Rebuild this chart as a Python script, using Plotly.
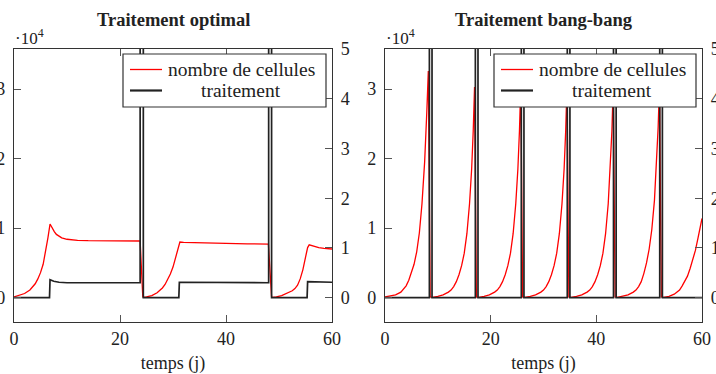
import plotly.graph_objects as go

# ---------------- data (cells in units of 1e4, treatment on right axis) ----------------
t_opt_cells = [0, 1, 2, 3, 4, 4.5, 5, 5.5, 6, 6.4, 6.8, 7.2, 7.6, 8, 8.5, 9, 10, 11, 12, 14, 17, 20, 23.8, 24.3,
               24.4, 25, 26, 27, 28, 28.5, 29, 29.5, 30, 30.5, 31, 31.3, 32, 34, 37, 40, 44, 48.0, 48.6,
               48.8, 49.5, 50.5, 51.5, 52, 52.5, 53, 53.5, 54, 54.5, 55, 55.4, 55.7, 56.5, 57.5, 58.5, 60]
cells_opt = [0.01, 0.03, 0.06, 0.11, 0.20, 0.27, 0.36, 0.48, 0.67, 0.86, 1.06, 1.0, 0.95, 0.91, 0.88, 0.86, 0.84, 0.83, 0.825, 0.82, 0.82, 0.815, 0.815, 0.01,
             0.005, 0.01, 0.03, 0.07, 0.14, 0.19, 0.26, 0.34, 0.44, 0.57, 0.73, 0.80, 0.795, 0.79, 0.785, 0.78, 0.775, 0.77, 0.01,
             0.005, 0.01, 0.03, 0.06, 0.08, 0.10, 0.13, 0.18, 0.27, 0.40, 0.58, 0.72, 0.76, 0.74, 0.72, 0.71, 0.70]

t_opt_treat = [0, 6.7, 6.8, 7.5, 8.5, 10, 23.8, 23.8, 24.4, 24.4, 31.1, 31.2, 48.05, 48.05, 48.6, 48.6, 55.3, 55.4, 60]
treat_opt = [0, 0, 0.36, 0.33, 0.31, 0.30, 0.30, 10, 10, 0, 0, 0.31, 0.30, 10, 10, 0, 0, 0.32, 0.31]

t_bb_cells = [0, 1, 2, 3, 3.5, 4, 4.5, 5, 5.5, 6, 6.5, 7, 7.5, 7.9, 8.2, 8.55,
              9.0, 10, 11, 12, 12.5, 13, 13.5, 14, 14.5, 15, 15.5, 16, 16.4, 16.7, 16.95, 17.3,
              17.75, 18.75, 19.75, 20.75, 21.25, 21.75, 22.25, 22.75, 23.25, 23.75, 24.25, 24.75, 25.15, 25.45, 25.7, 26.05,
              26.5, 27.5, 28.5, 29.5, 30, 30.5, 31, 31.5, 32, 32.5, 33, 33.5, 33.9, 34.2, 34.45, 34.8,
              35.25, 36.25, 37.25, 38.25, 38.75, 39.25, 39.75, 40.25, 40.75, 41.25, 41.75, 42.25, 42.65, 42.95, 43.2, 43.55,
              44, 45, 46, 47, 47.5, 48, 48.5, 49, 49.5, 50, 50.5, 51, 51.4, 51.7, 51.95, 52.3,
              52.75, 53.75, 54.75, 55.75, 56.25, 56.75, 57.25, 57.75, 58.25, 58.75, 59.25, 59.6, 60]
cells_bb = [0.01, 0.02, 0.04, 0.08, 0.12, 0.17, 0.25, 0.35, 0.48, 0.66, 0.93, 1.35, 1.95, 2.65, 3.26, 0.01,
            0.005, 0.02, 0.04, 0.08, 0.11, 0.16, 0.23, 0.33, 0.46, 0.64, 0.92, 1.35, 1.85, 2.4, 3.03, 0.01,
            0.005, 0.02, 0.04, 0.08, 0.11, 0.16, 0.23, 0.33, 0.46, 0.64, 0.92, 1.35, 1.85, 2.4, 3.05, 0.01,
            0.005, 0.02, 0.04, 0.08, 0.11, 0.16, 0.23, 0.33, 0.46, 0.64, 0.92, 1.35, 1.85, 2.4, 3.05, 0.01,
            0.005, 0.02, 0.04, 0.08, 0.11, 0.16, 0.23, 0.33, 0.46, 0.64, 0.92, 1.35, 1.85, 2.4, 3.05, 0.01,
            0.005, 0.02, 0.04, 0.08, 0.11, 0.16, 0.23, 0.35, 0.50, 0.70, 0.98, 1.40, 1.90, 2.45, 3.05, 0.01,
            0.005, 0.02, 0.05, 0.11, 0.17, 0.24, 0.31, 0.42, 0.54, 0.68, 0.86, 0.98, 1.14]

t_bb_treat = [0, 8.4, 8.4, 8.9, 8.9, 17.1, 17.1, 17.6, 17.6, 25.8, 25.8, 26.3, 26.3, 34.5, 34.5, 35.0, 35.0,
              43.25, 43.25, 43.75, 43.75, 52.0, 52.0, 52.5, 52.5, 60]
treat_bb = [0, 0, 10, 10, 0, 0, 10, 10, 0, 0, 10, 10, 0, 0, 10, 10, 0,
            0, 10, 10, 0, 0, 10, 10, 0, 0]

x_ticks = [0, 20, 40, 60]
cells_ticks = [0, 1, 2, 3]
treat_ticks = [0, 1, 2, 3, 4, 5]

titles = ["Traitement optimal", "Traitement bang-bang"]
x_title = "temps (j)"
names = ["nombre de cellules", "traitement"]

# ---------------- figure ----------------
FONT = "Liberation Serif"
RED = "#ff0000"
BLACK = "#222222"
AX = "#333333"
W, H = 716, 374
ML, MR, MT, MB = 14, 14, 49, 52
PW, PH = W - ML - MR, H - MT - MB


def px_x(p):
    return (p - ML) / PW


def px_y(p):
    return (H - MB - p) / PH


fig = go.Figure()
fig.add_trace(go.Scatter(x=t_opt_cells, y=cells_opt, mode="lines", name=names[0],
                         line=dict(color=RED, width=1.3), xaxis="x", yaxis="y"))
fig.add_trace(go.Scatter(x=t_opt_treat, y=treat_opt, mode="lines", name=names[1],
                         line=dict(color=BLACK, width=1.7), xaxis="x", yaxis="y2"))
fig.add_trace(go.Scatter(x=t_bb_cells, y=cells_bb, mode="lines", name=names[0],
                         line=dict(color=RED, width=1.3), xaxis="x2", yaxis="y3"))
fig.add_trace(go.Scatter(x=t_bb_treat, y=treat_bb, mode="lines", name=names[1],
                         line=dict(color=BLACK, width=1.7), xaxis="x2", yaxis="y4"))

tickfont = dict(family=FONT, size=18, color="#222")


def xax(domain, anchor):
    return dict(domain=domain, anchor=anchor, range=[0, 60], tickvals=x_ticks,
                showline=True, linecolor=AX, linewidth=1.2, mirror="ticks",
                ticks="inside", ticklen=7, tickcolor="#555", tickwidth=1,
                showgrid=False, zeroline=False, tickfont=tickfont,
                title=dict(text=x_title, font=dict(family=FONT, size=18, color="#222"), standoff=22))


def yleft(anchor):
    return dict(anchor=anchor, range=[-0.35, 3.577], tickvals=cells_ticks,
                showline=True, linecolor=AX, linewidth=1.2, mirror=False,
                ticks="inside", ticklen=7, tickcolor="#555", tickwidth=1,
                showgrid=False, zeroline=False, tickfont=tickfont, ticklabelstandoff=4)


def yright(anchor, overlay):
    return dict(anchor=anchor, overlaying=overlay, side="right", range=[-0.49, 5.003], tickvals=treat_ticks,
                showline=True, linecolor=AX, linewidth=1.2,
                ticks="inside", ticklen=7, tickcolor="#555", tickwidth=1,
                showgrid=False, zeroline=False, tickfont=tickfont, ticklabelstandoff=4)


fig.update_layout(
    width=W, height=H,
    margin=dict(l=ML, r=MR, t=MT, b=MB, autoexpand=False),
    paper_bgcolor="white", plot_bgcolor="white",
    showlegend=False,
    xaxis=xax([0, px_x(332)], "y"),
    yaxis=yleft("x"),
    yaxis2=yright("x", "y"),
    xaxis2=xax([px_x(385), 1], "y3"),
    yaxis3=yleft("x2"),
    yaxis4=yright("x2", "y3"),
)

# titles
for cx, txt in [(px_x(173), titles[0]), (px_x(543.5), titles[1])]:
    fig.add_annotation(x=cx, y=1.0, xref="paper", yref="paper", yshift=29, text="<b>" + txt + "</b>",
                       showarrow=False, xanchor="center", yanchor="middle",
                       font=dict(family=FONT, size=18.5, color="#222"))

# exponent labels
for px in [px_x(14), px_x(385)]:
    fig.add_annotation(x=px, y=1.0, xref="paper", yref="paper", yshift=12, xshift=-1,
                       text="\u00b710<sup>4</sup>", showarrow=False, xanchor="left", yanchor="middle",
                       font=dict(family=FONT, size=17, color="#222"))

# legends (one per panel, drawn as boxed keys)
legend_boxes = [(123, 326), (494, 696)]
for (bx0, bx1) in legend_boxes:
    fig.add_shape(type="rect", xref="paper", yref="paper", layer="above",
                  x0=px_x(bx0), x1=px_x(bx1), y0=px_y(107), y1=px_y(54),
                  fillcolor="white", line=dict(color=AX, width=1.2))
    for (name, color, width, ry) in [(names[0], RED, 1.3, 69.5), (names[1], BLACK, 2.2, 90.5)]:
        fig.add_shape(type="line", xref="paper", yref="paper", layer="above",
                      x0=px_x(bx0 + 7), x1=px_x(bx0 + 39), y0=px_y(ry), y1=px_y(ry),
                      line=dict(color=color, width=width))
        fig.add_annotation(x=px_x((bx0 + 44 + bx1 - 10) / 2), y=px_y(ry), xref="paper", yref="paper",
                           text=name, showarrow=False, xanchor="center", yanchor="middle",
                           font=dict(family=FONT, size=19.5, color="#222"))

fig.write_html("out.html", config={"displayModeBar": False},
               post_script="document.body.style.margin='0';document.body.style.overflow='hidden';")
